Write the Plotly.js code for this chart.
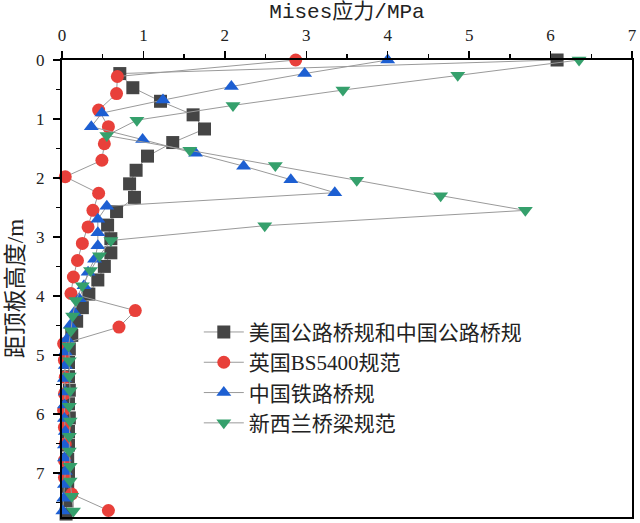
<!DOCTYPE html>
<html>
<head>
<meta charset="utf-8">
<script src="https://cdn.plot.ly/plotly-3.0.1.min.js"></script>
<style>
  html, body { margin: 0; padding: 0; background: #fff; }
  #chart { width: 640px; height: 523px; }
</style>
</head>
<body>
<div id="chart"></div>
<script>
// depth below top slab (m) and Mises stress (MPa)
var usDepth = [0, 0.23, 0.47, 0.70, 0.93, 1.17, 1.40, 1.63, 1.87, 2.10, 2.33, 2.57, 2.80, 3.03, 3.27, 3.50, 3.73,
  3.97, 4.20, 4.43, 4.67, 4.90, 5.13, 5.37, 5.60, 5.83, 6.07, 6.30, 6.53, 6.77, 7.00, 7.23, 7.47, 7.70];
var usStress = [6.08, 0.71, 0.87, 1.21, 1.61, 1.75, 1.36, 1.05, 0.91, 0.83, 0.89, 0.67, 0.56, 0.60, 0.60, 0.52, 0.44,
  0.33, 0.25, 0.18, 0.12, 0.09, 0.08, 0.08, 0.09, 0.08, 0.09, 0.08, 0.08, 0.07, 0.08, 0.07, 0.06, 0.05];

var bsDepth = [0, 0.28, 0.57, 0.85, 1.13, 1.42, 1.70, 1.98, 2.26, 2.55, 2.83, 3.11, 3.40, 3.68, 3.96, 4.25, 4.53,
  4.81, 5.09, 5.38, 5.66, 5.94, 6.23, 6.51, 6.79, 7.08, 7.36, 7.64];
var bsStress = [2.87, 0.68, 0.67, 0.45, 0.57, 0.52, 0.49, 0.04, 0.45, 0.38, 0.32, 0.25, 0.19, 0.14, 0.11, 0.90, 0.70,
  0.02, 0.03, 0.04, 0.03, 0.02, 0.03, 0.04, 0.03, 0.03, 0.12, 0.57];

var rwDepth = [0, 0.23, 0.45, 0.68, 0.90, 1.13, 1.35, 1.58, 1.80, 2.03, 2.25, 2.48, 2.70, 2.93, 3.15, 3.38, 3.60,
  3.83, 4.05, 4.28, 4.50, 4.73, 4.95, 5.18, 5.40, 5.63, 5.85, 6.08, 6.30, 6.53, 6.75, 6.98, 7.20, 7.43, 7.65];
var rwStress = [4.00, 2.98, 2.08, 1.24, 0.49, 0.36, 0.99, 1.64, 2.23, 2.81, 3.35, 0.55, 0.44, 0.44, 0.44, 0.40, 0.32,
  0.27, 0.21, 0.15, 0.10, 0.06, 0.04, 0.04, 0.03, 0.04, 0.03, 0.03, 0.04, 0.03, 0.03, 0.04, 0.03, 0.02, 0.01];

var nzDepth = [0, 0.26, 0.51, 0.77, 1.02, 1.28, 1.53, 1.79, 2.04, 2.30, 2.55, 2.81, 3.06, 3.32, 3.57, 3.83, 4.08,
  4.34, 4.59, 4.85, 5.10, 5.36, 5.61, 5.87, 6.12, 6.38, 6.63, 6.89, 7.14, 7.40, 7.65];
var nzStress = [6.35, 4.86, 3.45, 2.10, 0.92, 0.55, 1.57, 2.62, 3.62, 4.65, 5.69, 2.49, 0.60, 0.46, 0.35, 0.25, 0.17,
  0.13, 0.11, 0.08, 0.09, 0.09, 0.10, 0.09, 0.10, 0.09, 0.09, 0.10, 0.10, 0.12, 0.14];

var seriesNames = ['美国公路桥规和中国公路桥规', '英国BS5400规范', '中国铁路桥规', '新西兰桥梁规范'];
var xTicks = [0, 1, 2, 3, 4, 5, 6, 7];
var yTicks = [0, 1, 2, 3, 4, 5, 6, 7];

var serif = 'Liberation Serif, Noto Sans CJK SC, serif';
var lineColor = '#9a9a9a';

function make_trace(name, xs, ys, symbol, color) {
  return {
    type: 'scatter',
    mode: 'lines+markers',
    name: name,
    x: xs,
    y: ys,
    cliponaxis: false,
    line: { color: lineColor, width: 1 },
    marker: { symbol: symbol, size: 13, color: color, line: { width: 0 } }
  };
}

var traces = [
  make_trace(seriesNames[0], usStress, usDepth, 'square', '#454545'),
  make_trace(seriesNames[1], bsStress, bsDepth, 'circle', '#e8403a'),
  make_trace(seriesNames[2], rwStress, rwDepth, 'triangle-up', '#1d5fd2'),
  make_trace(seriesNames[3], nzStress, nzDepth, 'triangle-down', '#35a06c')
];

var layout = {
  width: 640,
  height: 523,
  margin: { l: 62, r: 8, t: 60, b: 6, pad: 0 },
  paper_bgcolor: '#fff',
  plot_bgcolor: '#fff',
  font: { family: serif, color: '#222', size: 17 },
  showlegend: true,
  legend: {
    x: 0.24,
    y: 0.449,
    xanchor: 'left',
    yanchor: 'top',
    bgcolor: 'rgba(0,0,0,0)',
    font: { family: serif, size: 21, color: '#222' },
    tracegroupgap: 0,
    itemwidth: 40
  },
  xaxis: {
    side: 'top',
    range: [0, 7],
    tickvals: xTicks,
    ticktext: xTicks.map(String),
    ticks: 'outside',
    ticklen: 7,
    tickwidth: 1.5,
    tickcolor: '#000',
    ticklabelstandoff: 3,
    minor: { dtick: 0.5, ticks: 'outside', ticklen: 4, tickwidth: 1.5, tickcolor: '#000' },
    showline: true,
    linecolor: '#000',
    linewidth: 2,
    mirror: true,
    showgrid: false,
    zeroline: false,
    tickfont: { family: serif, size: 17 },
    title: {
      text: 'Mises应力/MPa',
      standoff: 2,
      font: { family: 'Liberation Mono, Noto Sans CJK SC, monospace', size: 21, color: '#222' }
    }
  },
  yaxis: {
    range: [7.75, 0],
    tickvals: yTicks,
    ticktext: yTicks.map(String),
    ticks: 'outside',
    ticklen: 7,
    tickwidth: 1.5,
    tickcolor: '#000',
    ticklabelstandoff: 5,
    minor: { dtick: 0.5, ticks: 'outside', ticklen: 4, tickwidth: 1.5, tickcolor: '#000' },
    showline: true,
    linecolor: '#000',
    linewidth: 2,
    mirror: true,
    showgrid: false,
    zeroline: false,
    tickfont: { family: serif, size: 17 },
    title: {
      text: '距顶板高度/m',
      standoff: 6,
      font: { family: serif, size: 23, color: '#222' }
    }
  }
};

Plotly.newPlot('chart', traces, layout, { displayModeBar: false, staticPlot: true });
</script>
</body>
</html>
